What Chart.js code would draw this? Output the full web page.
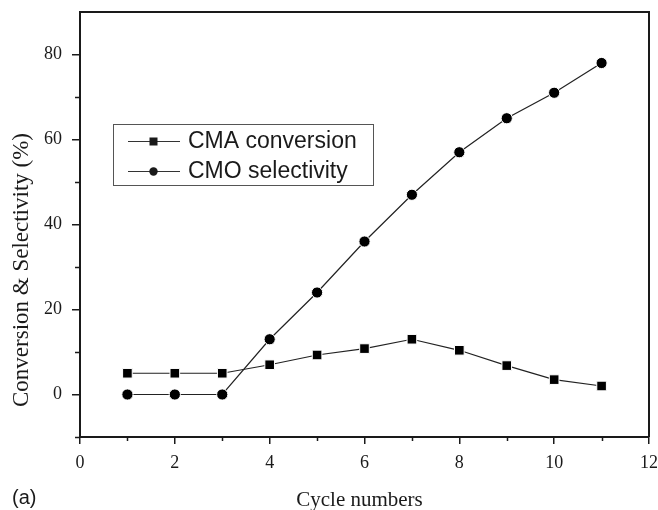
<!DOCTYPE html>
<html>
<head>
<meta charset="utf-8">
<script src="https://cdn.jsdelivr.net/npm/chart.js@4.4.1/dist/chart.umd.min.js"></script>
<style>
  html, body { margin: 0; padding: 0; background: #fff; }
  #wrap { width: 658px; height: 510px; position: relative; }
</style>
</head>
<body>
<div id="wrap"><canvas id="c" width="658" height="510"></canvas></div>
<script>
// Catalyst reuse: conversion of CMA and selectivity to CMO per cycle
const cycles = [1, 2, 3, 4, 5, 6, 7, 8, 9, 10, 11];
const cmaConversion = [5, 5, 5, 7, 9.3, 10.8, 13, 10.4, 6.8, 3.5, 2];
const cmoSelectivity = [0, 0, 0, 13, 24, 36, 47, 57, 65, 71, 78];

const xMajorTicks = [0, 2, 4, 6, 8, 10, 12];
const xMinorTicks = [1, 3, 5, 7, 9, 11];
const yMajorTicks = [0, 20, 40, 60, 80];
const yMinorTicks = [-10, 10, 30, 50, 70];

const seriesNames = ['CMA conversion', 'CMO selectivity'];
const xTitle = 'Cycle numbers';
const yTitle = 'Conversion & Selectivity (%)';
const panelTag = '(a)';

const INK = '#1a1a1a';
const SERIF = '"Liberation Serif", "Times New Roman", serif';
const SANS = '"Liberation Sans", Arial, sans-serif';

const toPoints = (ys) => cycles.map((x, i) => ({ x, y: ys[i] }));

// Frame, minor ticks, axis titles and the boxed legend
const decorations = {
  id: 'decorations',
  afterDraw(chart) {
    const { ctx, chartArea: a, scales } = chart;
    const xs = scales.x, ys = scales.y;
    ctx.save();

    // top and right sides of the frame
    ctx.strokeStyle = INK;
    ctx.lineWidth = 2;
    ctx.beginPath();
    ctx.moveTo(a.left, a.top);
    ctx.lineTo(a.right, a.top);
    ctx.lineTo(a.right, a.bottom);
    ctx.stroke();

    // minor ticks
    ctx.lineWidth = 1.5;
    ctx.beginPath();
    xMinorTicks.forEach(v => {
      const px = Math.round(xs.getPixelForValue(v)) + 0.5;
      ctx.moveTo(px, a.bottom);
      ctx.lineTo(px, a.bottom + 4);
    });
    yMinorTicks.forEach(v => {
      const py = Math.round(ys.getPixelForValue(v)) + 0.5;
      ctx.moveTo(a.left, py);
      ctx.lineTo(a.left - 5, py);
    });
    ctx.stroke();

    // axis titles
    ctx.fillStyle = INK;
    ctx.textAlign = 'center';
    ctx.textBaseline = 'middle';
    ctx.font = '21px ' + SERIF;
    ctx.fillText(xTitle, (a.left + a.right) / 2 - 5, 500);

    ctx.save();
    ctx.translate(22, 270);
    ctx.rotate(-Math.PI / 2);
    ctx.font = '23px ' + SERIF;
    ctx.fillText(yTitle, 0, 0);
    ctx.restore();

    ctx.font = '20px ' + SANS;
    ctx.textAlign = 'left';
    ctx.fillText(panelTag, 12, 498);

    // legend box
    const bx = 113, by = 124, bw = 260, bh = 61;
    ctx.strokeStyle = '#555';
    ctx.lineWidth = 1;
    ctx.strokeRect(bx + 0.5, by + 0.5, bw, bh);

    const rowY = [141, 171];
    chart.data.datasets.forEach((ds, i) => {
      const y = rowY[i];
      ctx.strokeStyle = '#333';
      ctx.lineWidth = 1;
      ctx.beginPath();
      ctx.moveTo(128, y + 0.5);
      ctx.lineTo(180, y + 0.5);
      ctx.stroke();
      ctx.fillStyle = INK;
      if (ds.pointStyle === 'rect') {
        ctx.fillRect(149.5, y - 3.5, 8, 8);
      } else {
        ctx.beginPath();
        ctx.arc(153.5, y + 0.5, 4.2, 0, Math.PI * 2);
        ctx.fill();
      }
      ctx.font = '23px ' + SANS;
      ctx.textAlign = 'left';
      ctx.textBaseline = 'middle';
      ctx.fillText(ds.label, 188, y + 1);
    });

    ctx.restore();
  }
};

const clearPadding = (s) => {
  s.paddingTop = 0; s.paddingBottom = 0; s.paddingLeft = 0; s.paddingRight = 0;
};

new Chart(document.getElementById('c'), {
  type: 'line',
  data: {
    datasets: [
      {
        label: seriesNames[0],
        data: toPoints(cmaConversion),
        borderColor: '#222',
        borderWidth: 1.2,
        pointStyle: 'rect',
        pointRadius: 6.8,
        pointBackgroundColor: '#000',
        pointBorderColor: '#fff',
        pointBorderWidth: 1,
        tension: 0
      },
      {
        label: seriesNames[1],
        data: toPoints(cmoSelectivity),
        borderColor: '#222',
        borderWidth: 1.2,
        pointStyle: 'circle',
        pointRadius: 5.6,
        pointBackgroundColor: '#000',
        pointBorderColor: '#fff',
        pointBorderWidth: 1,
        tension: 0
      }
    ]
  },
  options: {
    responsive: false,
    animation: false,
    devicePixelRatio: 1,
    layout: { padding: { top: 12, right: 9, left: 0, bottom: 0 } },
    plugins: {
      legend: { display: false },
      tooltip: { enabled: false }
    },
    scales: {
      x: {
        type: 'linear',
        min: 0,
        max: 12,
        afterBuildTicks: (s) => { s.ticks = xMajorTicks.map(v => ({ value: v })); },
        afterFit: (s) => { s.height = 73; clearPadding(s); },
        grid: { drawOnChartArea: false, tickLength: 7, color: INK, lineWidth: 1.5 },
        border: { display: true, color: INK, width: 2 },
        ticks: { color: INK, font: { family: SERIF, size: 18 }, padding: 8, maxRotation: 0 }
      },
      y: {
        type: 'linear',
        min: -10,
        max: 90,
        afterBuildTicks: (s) => { s.ticks = yMajorTicks.map(v => ({ value: v })); },
        afterFit: (s) => { s.width = 80; clearPadding(s); },
        grid: { drawOnChartArea: false, tickLength: 8, color: INK, lineWidth: 1.5 },
        border: { display: true, color: INK, width: 2 },
        ticks: { color: INK, font: { family: SERIF, size: 18 }, padding: 10 }
      }
    }
  },
  plugins: [decorations]
});
</script>
</body>
</html>
